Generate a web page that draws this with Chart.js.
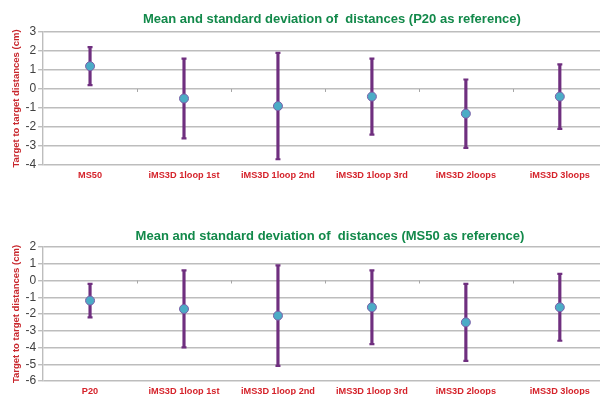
<!DOCTYPE html>
<html>
<head>
<meta charset="utf-8">
<script src="https://cdn.jsdelivr.net/npm/chart.js@4.4.1/dist/chart.umd.min.js"></script>
<style>
  html, body { margin: 0; padding: 0; background: #fff; overflow: hidden; width: 600px; height: 395px; }
  .box { position: absolute; left: 0; width: 613px; }
  #top { top: 0; height: 188px; }
  #bottom { top: 195px; height: 209px; }
</style>
</head>
<body>
<div class="box" id="top"><canvas id="chartP20"></canvas></div>
<div class="box" id="bottom"><canvas id="chartMS50"></canvas></div>
<script>
const labelsP20 = ["MS50", "iMS3D 1loop 1st", "iMS3D 1loop 2nd", "iMS3D 1loop 3rd", "iMS3D 2loops", "iMS3D 3loops"];
const meanP20 = [1.2, -0.5, -0.9, -0.4, -1.3, -0.4];
const sdP20 = [1.0, 2.1, 2.8, 2.0, 1.8, 1.7];

const labelsMS50 = ["P20", "iMS3D 1loop 1st", "iMS3D 1loop 2nd", "iMS3D 1loop 3rd", "iMS3D 2loops", "iMS3D 3loops"];
const meanMS50 = [-1.2, -1.7, -2.1, -1.6, -2.5, -1.6];
const sdMS50 = [1.0, 2.3, 3.0, 2.2, 2.3, 2.0];

const purple = "#6F2F7F";
const markerBlue = "#4BACC6";
const gridGray = "#BDBDBD";
const font = "'Liberation Sans', Arial, sans-serif";

// the Excel title sits a bit right of the plot centre
const shiftTitle = {
  id: "shiftTitle",
  afterLayout(chart, args, opts) {
    const t = chart.titleBlock;
    if (t) {
      t.left += opts.dx;
      t.right += opts.dx;
    }
  },
};

// small category tick marks on the zero line, like the Excel axis
const zeroTicks = {
  id: "zeroTicks",
  beforeDatasetsDraw(chart) {
    const { ctx, scales } = chart;
    const y0 = scales.y.getPixelForValue(0);
    ctx.save();
    ctx.strokeStyle = "#A6A6A6";
    ctx.lineWidth = 1;
    for (let i = 1; i < chart.data.labels.length; i++) {
      const x = Math.round(scales.x.getPixelForValue(i - 0.5)) + 0.5;
      ctx.beginPath();
      ctx.moveTo(x, y0);
      ctx.lineTo(x, y0 + 3);
      ctx.stroke();
    }
    ctx.restore();
  },
};

function makeChart(id, title, labels, means, sds, yMin, yMax, titlePad, dx) {
  const lows = means.map((m, i) => +(m - sds[i]).toFixed(2));
  const highs = means.map((m, i) => +(m + sds[i]).toFixed(2));
  const ranges = lows.map((lo, i) => [lo, highs[i]]);

  new Chart(document.getElementById(id).getContext("2d"), {
    type: "bar",
    data: {
      labels: labels,
      datasets: [
        {
          type: "line",
          label: "Mean",
          data: means,
          showLine: false,
          pointRadius: 4.5,
          pointBackgroundColor: markerBlue,
          pointBorderColor: "#7A5FA8",
          pointBorderWidth: 1,
          order: 0,
        },
        {
          type: "line",
          label: "SD high",
          data: highs,
          showLine: false,
          pointStyle: "line",
          pointRadius: 2.5,
          pointBorderColor: purple,
          pointBorderWidth: 2.2,
          order: 1,
        },
        {
          type: "line",
          label: "SD low",
          data: lows,
          showLine: false,
          pointStyle: "line",
          pointRadius: 2.5,
          pointBorderColor: purple,
          pointBorderWidth: 2.2,
          order: 1,
        },
        {
          label: "SD",
          data: ranges,
          backgroundColor: purple,
          barThickness: 2.5,
          borderSkipped: false,
          order: 2,
        },
      ],
    },
    plugins: [shiftTitle, zeroTicks],
    options: {
      responsive: true,
      maintainAspectRatio: false,
      animation: false,
      layout: { padding: { left: 11, right: 0, top: 0, bottom: 2 } },
      plugins: {
        legend: { display: false },
        tooltip: { enabled: false },
        shiftTitle: { dx: dx },
        title: {
          display: true,
          text: title,
          fullSize: false,
          color: "#12894A",
          font: { family: font, size: 13, weight: "bold" },
          padding: titlePad,
        },
      },
      scales: {
        x: {
          offset: true,
          grid: { display: false, drawTicks: false },
          border: { display: false },
          ticks: {
            color: "#D5232B",
            padding: 5,
            maxRotation: 0,
            autoSkip: false,
            font: { family: font, size: 9.2, weight: "bold" },
          },
        },
        y: {
          min: yMin,
          max: yMax,
          ticks: {
            stepSize: 1,
            autoSkip: false,
            color: "#404040",
            padding: 2,
            font: { family: font, size: 12 },
          },
          grid: { color: gridGray, lineWidth: 1.4, tickLength: 5 },
          border: { display: true, color: gridGray, width: 1.4 },
          title: {
            display: true,
            text: "Target to target distances (cm)",
            color: "#C8262C",
            padding: { top: 0, bottom: 1 },
            font: { family: font, size: 9.5, weight: "bold" },
          },
        },
      },
    },
  });
}

makeChart("chartP20", "Mean and standard deviation of  distances (P20 as reference)",
  labelsP20, meanP20, sdP20, -4, 3, { top: 12, bottom: 4.4 }, 7);
makeChart("chartMS50", "Mean and standard deviation of  distances (MS50 as reference)",
  labelsMS50, meanMS50, sdMS50, -6, 2, { top: 34, bottom: 2.4 }, 5);
</script>
</body>
</html>
